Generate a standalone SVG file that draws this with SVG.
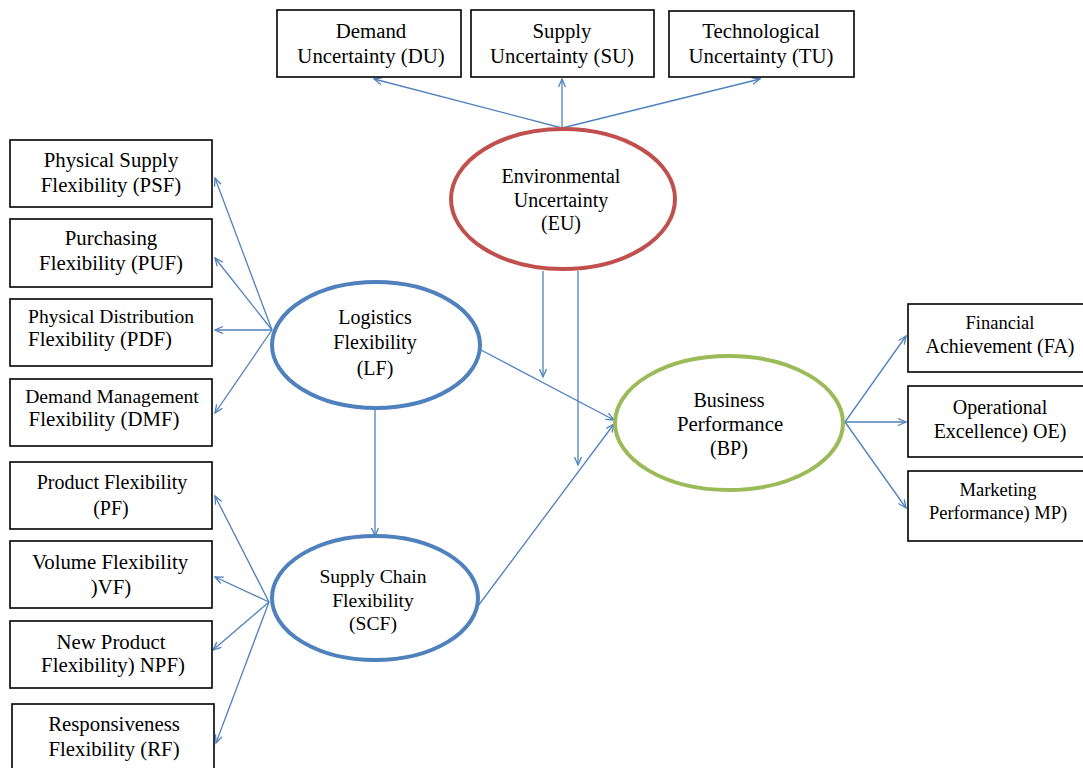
<svg xmlns="http://www.w3.org/2000/svg" width="1083" height="768" viewBox="0 0 1083 768">
<style>
.box{fill:#fff;stroke:#000;stroke-width:1.6}
text{font-family:'Liberation Serif','Tinos','DejaVu Serif',serif;font-size:20px;fill:#000;text-anchor:middle}
.s{font-size:18.5px}
.m{font-size:19.6px}
.l{font-size:20.8px}
.c{fill:none;stroke:#4F81BD;stroke-width:1.3}
.eu{fill:#fff;stroke:#C0504D;stroke-width:4}
.bl{fill:#fff;stroke:#4F81BD;stroke-width:4}
.gr{fill:#fff;stroke:#9BBB59;stroke-width:4}
</style>
<defs>
<marker id="a" markerUnits="userSpaceOnUse" markerWidth="12" markerHeight="10" refX="9" refY="4" orient="auto">
<path d="M1,0.5 L9,4 L1,7.5" fill="none" stroke="#4F81BD" stroke-width="1.3"/>
</marker>
</defs>
<rect width="1083" height="768" fill="#fff"/>

<g id="connectors">
<line class="c" x1="562" y1="128" x2="374" y2="79" marker-end="url(#a)"/>
<line class="c" x1="562" y1="128" x2="562" y2="79" marker-end="url(#a)"/>
<line class="c" x1="562" y1="128" x2="760" y2="79" marker-end="url(#a)"/>
<line class="c" x1="272" y1="330" x2="215" y2="178" marker-end="url(#a)"/>
<line class="c" x1="272" y1="330" x2="215" y2="258" marker-end="url(#a)"/>
<line class="c" x1="272" y1="330" x2="215" y2="330" marker-end="url(#a)"/>
<line class="c" x1="272" y1="330" x2="215" y2="413" marker-end="url(#a)"/>
<line class="c" x1="269" y1="602" x2="215" y2="496" marker-end="url(#a)"/>
<line class="c" x1="269" y1="602" x2="215" y2="577" marker-end="url(#a)"/>
<line class="c" x1="269" y1="602" x2="213" y2="650" marker-end="url(#a)"/>
<line class="c" x1="269" y1="602" x2="216" y2="743" marker-end="url(#a)"/>
<line class="c" x1="375" y1="410" x2="375" y2="536" marker-end="url(#a)"/>
<line class="c" x1="481" y1="350" x2="614" y2="420" marker-end="url(#a)"/>
<line class="c" x1="478" y1="606" x2="614" y2="424" marker-end="url(#a)"/>
<line class="c" x1="543" y1="271" x2="543" y2="377" marker-end="url(#a)"/>
<line class="c" x1="578" y1="271" x2="578" y2="465" marker-end="url(#a)"/>
<line class="c" x1="845" y1="422" x2="906" y2="336" marker-end="url(#a)"/>
<line class="c" x1="845" y1="422" x2="906" y2="422" marker-end="url(#a)"/>
<line class="c" x1="845" y1="422" x2="906" y2="508" marker-end="url(#a)"/>
</g>

<g id="DU"><rect class="box" x="277" y="10" width="184" height="67"/>
<text class="l" x="371" y="38">Demand</text><text class="l" x="371" y="63">Uncertainty (DU)</text></g>
<g id="SU"><rect class="box" x="471" y="10" width="183" height="67"/>
<text class="l" x="562" y="38">Supply</text><text class="l" x="562" y="63">Uncertainty (SU)</text></g>
<g id="TU"><rect class="box" x="669" y="11" width="185" height="66"/>
<text class="l" x="761" y="38">Technological</text><text class="l" x="761" y="63">Uncertainty (TU)</text></g>

<g id="EU"><ellipse class="eu" cx="563" cy="199" rx="112" ry="70"/>
<text x="561" y="183">Environmental</text><text x="561" y="207">Uncertainty</text><text x="561" y="230">(EU)</text></g>

<g id="PSF"><rect class="box" x="10" y="140" width="202" height="67"/>
<text class="l" x="111" y="167">Physical Supply</text><text class="l" x="111" y="192">Flexibility (PSF)</text></g>
<g id="PUF"><rect class="box" x="10" y="219" width="202" height="68"/>
<text class="l" x="111" y="245">Purchasing</text><text class="l" x="111" y="270">Flexibility (PUF)</text></g>
<g id="PDF"><rect class="box" x="10" y="299" width="202" height="67"/>
<text class="m" x="111" y="323">Physical Distribution</text><text class="l" x="100" y="346">Flexibility (PDF)</text></g>
<g id="DMF"><rect class="box" x="10" y="379" width="202" height="67"/>
<text class="m" x="112" y="403">Demand Management</text><text class="l" x="104" y="426">Flexibility (DMF)</text></g>
<g id="PF"><rect class="box" x="10" y="462" width="202" height="67"/>
<text x="112" y="489">Product Flexibility</text><text x="111" y="515">(PF)</text></g>
<g id="VF"><rect class="box" x="10" y="541" width="202" height="67"/>
<text class="l" x="110" y="569">Volume Flexibility</text><text class="l" x="111" y="594">)VF)</text></g>
<g id="NPF"><rect class="box" x="10" y="621" width="202" height="67"/>
<text class="l" x="111" y="649">New Product</text><text class="l" x="113" y="672">Flexibility) NPF)</text></g>
<g id="RF"><rect class="box" x="12" y="704" width="202" height="70"/>
<text class="l" x="114" y="731">Responsiveness</text><text class="l" x="114" y="756">Flexibility (RF)</text></g>

<g id="LF"><ellipse class="bl" cx="376" cy="345" rx="104" ry="63"/>
<text x="375" y="324">Logistics</text><text x="375" y="349">Flexibility</text><text x="375" y="375">(LF)</text></g>
<g id="SCF"><ellipse class="bl" cx="375" cy="598" rx="103" ry="62"/>
<text class="m" x="373" y="583">Supply Chain</text><text class="m" x="373" y="607">Flexibility</text><text class="m" x="373" y="630">(SCF)</text></g>
<g id="BP"><ellipse class="gr" cx="729" cy="423" rx="114" ry="67"/>
<text x="729" y="407">Business</text><text class="l" x="730" y="431">Performance</text><text x="729" y="455">(BP)</text></g>

<g id="FA"><rect class="box" x="908" y="304" width="180" height="68"/>
<text class="s" x="1000" y="329">Financial</text><text x="1000" y="353">Achievement (FA)</text></g>
<g id="OE"><rect class="box" x="908" y="386" width="180" height="71"/>
<text x="1000" y="414">Operational</text><text x="1000" y="438">Excellence) OE)</text></g>
<g id="MP"><rect class="box" x="908" y="471" width="180" height="70"/>
<text class="s" x="998" y="496">Marketing</text><text class="s" x="998" y="519">Performance) MP)</text></g>
</svg>
